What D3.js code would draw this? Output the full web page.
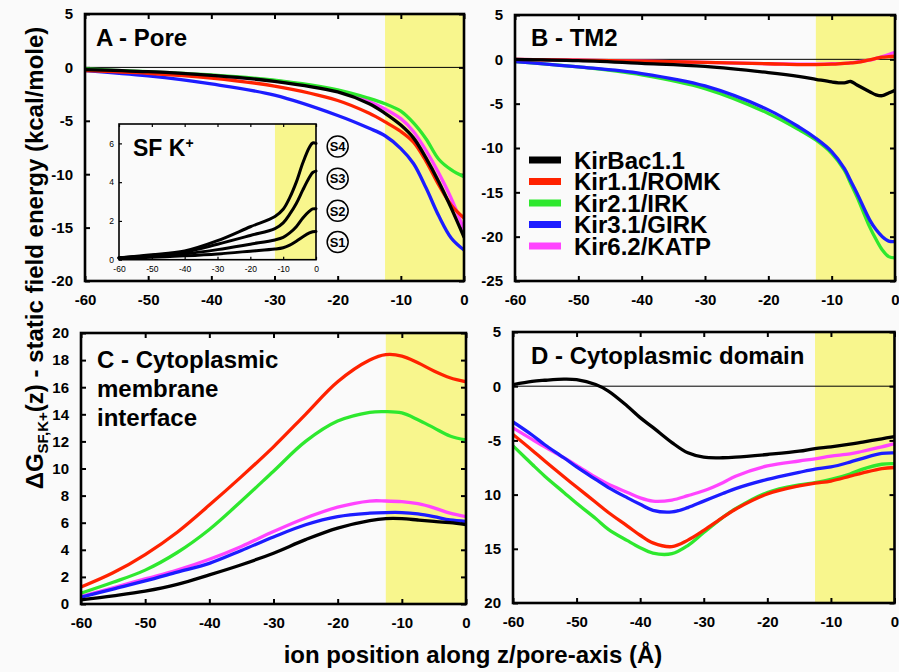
<!DOCTYPE html>
<html><head><meta charset="utf-8">
<script src="https://cdn.jsdelivr.net/npm/d3@7"></script>
<style>
body{margin:0;background:#fafafa}
svg{display:block}
text{font-family:"Liberation Sans",Arial,Helvetica,sans-serif;font-weight:bold;fill:#000}
</style>
</head><body><svg id="chart" width="899" height="672"></svg>
<script>
// ---------------- DATA ----------------
const seriesNames  = ["KirBac1.1","Kir1.1/ROMK","Kir2.1/IRK","Kir3.1/GIRK","Kir6.2/KATP"];
const seriesColors = ["#000000","#ff2200","#2ee82e","#1c1cff","#ff44ff"];
const xTickValues  = [-60,-50,-40,-30,-20,-10,0];
const sfRegion     = [-12.5, 0];

// Panel A - Pore
const poreX       = [-60,-50,-40,-30,-20,-15,-12.5,-10,-8,-6,-4,-2,0];
const poreKirBac  = [-0.2,-0.4,-0.75,-1.3,-2.3,-3.4,-4.3,-5.4,-6.6,-8.5,-10.7,-13.2,-15.9];
const poreROMK    = [-0.3,-0.55,-1.0,-1.75,-3.1,-4.3,-5.1,-6.0,-7.0,-8.8,-11.0,-12.9,-14.1];
const poreIRK     = [-0.15,-0.4,-0.7,-1.2,-2.1,-2.9,-3.4,-4.1,-5.2,-6.7,-8.6,-9.6,-10.25];
const poreGIRK    = [-0.3,-0.8,-1.55,-2.6,-4.5,-5.7,-6.4,-7.6,-9.0,-11.3,-13.9,-16.0,-17.1];
const poreKATP    = [-0.2,-0.4,-0.75,-1.25,-2.2,-3.2,-3.9,-4.8,-6.0,-7.8,-9.9,-12.3,-15.2];
const poreYTicks  = [5,0,-5,-10,-15,-20];

// Panel B - TM2
const tm2X       = [-60,-50,-40,-30,-20,-15,-12.5,-10,-8,-7,-6,-4,-3,-2,-1,0];
const tm2KirBac  = [0,-0.15,-0.45,-0.8,-1.5,-1.95,-2.25,-2.55,-2.65,-2.5,-2.9,-3.65,-4.0,-4.1,-3.8,-3.5];
const tm2ROMK    = [0,-0.1,-0.2,-0.35,-0.5,-0.6,-0.6,-0.55,-0.45,-0.4,-0.35,-0.05,0.1,0.25,0.3,0.35];
const tm2IRK     = [-0.25,-0.85,-1.75,-3.3,-6.1,-8.0,-9.1,-10.6,-12.5,-14.0,-15.5,-18.9,-20.3,-21.5,-22.25,-22.4];
const tm2GIRK    = [-0.25,-0.85,-1.6,-3.0,-5.7,-7.7,-8.9,-10.4,-12.3,-13.7,-15.1,-18.1,-19.2,-20.0,-20.5,-20.55];
const tm2KATP    = [0,-0.1,-0.2,-0.35,-0.5,-0.55,-0.55,-0.5,-0.45,-0.4,-0.3,-0.1,0.1,0.3,0.55,0.8];
const tm2YTicks  = [5,0,-5,-10,-15,-20,-25];

// Panel C - Cytoplasmic membrane interface
const cmiX       = [-60,-55,-50,-45,-40,-35,-30,-25,-20,-15,-12.5,-10,-7.5,-5,-2.5,0];
const cmiKirBac  = [0.3,0.6,0.95,1.45,2.15,2.9,3.75,4.75,5.6,6.15,6.3,6.3,6.2,6.1,6.0,5.85];
const cmiROMK    = [1.25,2.3,3.65,5.3,7.3,9.4,11.6,14.0,16.4,18.0,18.4,18.3,17.8,17.2,16.7,16.4];
const cmiIRK     = [0.8,1.6,2.5,3.8,5.5,7.6,9.8,12.0,13.5,14.15,14.2,14.1,13.6,13.0,12.4,12.1];
const cmiGIRK    = [0.5,1.1,1.7,2.35,3.0,3.95,4.95,5.85,6.45,6.7,6.75,6.75,6.65,6.45,6.2,6.1];
const cmiKATP    = [0.55,1.2,1.85,2.5,3.3,4.25,5.35,6.35,7.15,7.6,7.6,7.55,7.4,7.1,6.7,6.45];
const cmiYTicks  = [0,2,4,6,8,10,12,14,16,18,20];

// Panel D - Cytoplasmic domain
const cdX       = [-60,-57,-55,-52,-50,-47,-45,-42,-40,-38,-35,-32.5,-30,-27,-25,-20,-15,-12.5,-10,-7,-5,-2,0];
const cdKirBac  = [0.15,0.45,0.55,0.65,0.6,0.15,-0.45,-1.85,-2.9,-3.8,-5.2,-6.15,-6.55,-6.6,-6.55,-6.3,-6.0,-5.75,-5.6,-5.35,-5.15,-4.85,-4.65];
const cdROMK    = [-4.45,-5.9,-6.9,-8.35,-9.3,-10.7,-11.65,-12.9,-13.75,-14.45,-14.8,-14.2,-13.3,-12.1,-11.35,-9.95,-9.2,-8.95,-8.75,-8.3,-8.0,-7.6,-7.5];
const cdIRK     = [-5.5,-7.2,-8.3,-9.8,-10.8,-12.2,-13.2,-14.25,-14.9,-15.4,-15.45,-14.7,-13.5,-12.1,-11.3,-9.8,-9.1,-8.9,-8.6,-8.1,-7.65,-7.2,-7.15];
const cdGIRK    = [-3.3,-4.5,-5.4,-6.6,-7.45,-8.6,-9.35,-10.3,-10.9,-11.45,-11.6,-11.2,-10.6,-9.9,-9.45,-8.6,-7.95,-7.65,-7.45,-7.0,-6.65,-6.2,-6.15];
const cdKATP    = [-3.85,-4.9,-5.6,-6.6,-7.3,-8.4,-9.05,-9.8,-10.3,-10.6,-10.5,-10.1,-9.65,-8.9,-8.3,-7.35,-6.9,-6.7,-6.45,-6.25,-6.0,-5.6,-5.3];
const cdYTicks      = [5,0,-5,-10,-15,-20];
const cdYTickLabels = ["5","0","-5","10","15","20"];

// Inset - SF K+ sites
const sfX      = [-60,-50,-40,-30,-20,-12.5,-10,-8,-6,-4,-2,-1,0];
const sfS1     = [0.08,0.12,0.2,0.3,0.44,0.55,0.62,0.75,0.95,1.18,1.38,1.44,1.45];
const sfS2     = [0.1,0.18,0.3,0.52,0.8,1.02,1.15,1.38,1.7,2.15,2.5,2.62,2.63];
const sfS3     = [0.1,0.22,0.4,0.8,1.25,1.6,1.9,2.35,2.9,3.6,4.25,4.5,4.57];
const sfS4     = [0.1,0.25,0.45,0.98,1.7,2.23,2.6,3.2,4.0,5.0,5.8,6.02,6.0];
const sfSiteNames  = ["S1","S2","S3","S4"];
const sfSiteLabelY = [0.91,2.52,4.18,5.84];
const sfYTicks = [0,2,4,6];

// ---------------- DRAWING ----------------
const svg = d3.select("#chart");
const bg = "#fafafa", yellow = "#f8f68d";
const fmt = d => String(d);
const curve = d3.curveCatmullRom.alpha(0.5);

const panels = [
  {title:["A - Pore"], tx:96, ty:46, box:[85,464,14,281], yDom:[-20,5], yTicks:poreYTicks, yLabels:null, zero:true,
   x:poreX, ys:[poreKirBac,poreROMK,poreIRK,poreGIRK,poreKATP]},
  {title:["B - TM2"], tx:531, ty:46, box:[515,895,15,281], yDom:[-25,5], yTicks:tm2YTicks, yLabels:null, zero:true,
   x:tm2X, ys:[tm2KirBac,tm2ROMK,tm2IRK,tm2GIRK,tm2KATP]},
  {title:["C - Cytoplasmic","membrane","interface"], tx:97, ty:368, box:[81,466,333,604], yDom:[0,20], yTicks:cmiYTicks, yLabels:null, zero:false,
   x:cmiX, ys:[cmiKirBac,cmiROMK,cmiIRK,cmiGIRK,cmiKATP]},
  {title:["D - Cytoplasmic domain"], tx:531, ty:364, box:[513,894.5,332,603], yDom:[-20,5], yTicks:cdYTicks, yLabels:cdYTickLabels, zero:true,
   x:cdX, ys:[cdKirBac,cdROMK,cdIRK,cdGIRK,cdKATP]}
];
const drawOrder = [4,2,3,1,0];

panels.forEach((p,pi)=>{
  const [x0,x1,y0,y1] = p.box;
  const xs = d3.scaleLinear().domain([-60,0]).range([x0,x1]);
  const ys = d3.scaleLinear().domain(p.yDom).range([y1,y0]);
  const g = svg.append("g");
  const clipId = "clip"+pi;
  svg.append("clipPath").attr("id",clipId).append("rect")
    .attr("x",x0).attr("y",y0).attr("width",x1-x0).attr("height",y1-y0);
  g.append("rect").attr("x",x0).attr("y",y0).attr("width",x1-x0).attr("height",y1-y0).attr("fill",bg);
  g.append("rect").attr("x",xs(sfRegion[0])).attr("y",y0).attr("width",xs(sfRegion[1])-xs(sfRegion[0])).attr("height",y1-y0).attr("fill",yellow);
  if(p.zero){
    g.append("line").attr("x1",x0).attr("x2",x1).attr("y1",ys(0)).attr("y2",ys(0)).attr("stroke","#000").attr("stroke-width",1);
  }
  const bottom = d3.axisBottom(xs).tickValues(xTickValues).tickSizeInner(-5).tickSizeOuter(0).tickPadding(13).tickFormat(fmt);
  const top = d3.axisTop(xs).tickValues(xTickValues).tickSizeInner(-5).tickSizeOuter(0).tickFormat("");
  const left = d3.axisLeft(ys).tickValues(p.yTicks).tickSizeInner(-5).tickSizeOuter(0).tickPadding(12)
     .tickFormat((d,i)=> p.yLabels ? p.yLabels[i] : fmt(d));
  const right = d3.axisRight(ys).tickValues(p.yTicks).tickSizeInner(-5).tickSizeOuter(0).tickFormat("");
  [[bottom,`translate(0,${y1})`],[top,`translate(0,${y0})`],[left,`translate(${x0},0)`],[right,`translate(${x1},0)`]].forEach(([ax,tr])=>{
    const a = g.append("g").attr("transform",tr).call(ax);
    a.select(".domain").remove();
    a.selectAll(".tick line").attr("stroke","#000").attr("stroke-width",2);
    a.selectAll("text").style("font-size","15px").style("font-weight","bold")
      .style("font-family",'"Liberation Sans",Arial,sans-serif').attr("fill","#000");
  });
  const line = d3.line().curve(curve).x(d=>xs(d[0])).y(d=>ys(d[1]));
  const lg = g.append("g").attr("clip-path",`url(#${clipId})`);
  drawOrder.forEach(si=>{
    const pts = p.x.map((xv,i)=>[xv,p.ys[si][i]]);
    lg.append("path").attr("d",line(pts)).attr("fill","none").attr("stroke",seriesColors[si])
      .attr("stroke-width",3.3).attr("stroke-linejoin","round").attr("stroke-linecap","round");
  });
  g.append("rect").attr("x",x0).attr("y",y0).attr("width",x1-x0).attr("height",y1-y0)
    .attr("fill","none").attr("stroke","#000").attr("stroke-width",2.6);
  const t = g.append("text").attr("x",p.tx).attr("y",p.ty).style("font-size","24px");
  p.title.forEach((s,i)=>t.append("tspan").attr("x",p.tx).attr("dy",i?29:0).text(s));
});

// Legend in panel B
const legend = svg.append("g");
seriesNames.forEach((n,i)=>{
  const y = 160 + i*21.5;
  legend.append("line").attr("x1",529).attr("x2",561).attr("y1",y).attr("y2",y)
    .attr("stroke",seriesColors[i]).attr("stroke-width",7);
  legend.append("text").attr("x",574).attr("y",y).attr("dy","0.36em").style("font-size","24px").text(n);
});

// Inset in panel A
(function(){
  const x0=119,x1=316,y0=124,y1=259.7;
  const xs = d3.scaleLinear().domain([-60,0]).range([x0,x1]);
  const ys = d3.scaleLinear().domain([0,7]).range([y1,y0]);
  const g = svg.append("g");
  g.append("rect").attr("x",x0).attr("y",y0).attr("width",x1-x0).attr("height",y1-y0).attr("fill",bg);
  g.append("rect").attr("x",xs(sfRegion[0])).attr("y",y0).attr("width",xs(sfRegion[1])-xs(sfRegion[0])).attr("height",y1-y0).attr("fill",yellow);
  const bottom = d3.axisBottom(xs).tickValues(xTickValues).tickSizeInner(-3).tickSizeOuter(0).tickPadding(6).tickFormat(fmt);
  const top = d3.axisTop(xs).tickValues(xTickValues).tickSizeInner(-3).tickSizeOuter(0).tickFormat("");
  const left = d3.axisLeft(ys).tickValues(sfYTicks).tickSizeInner(-3).tickSizeOuter(0).tickPadding(5).tickFormat(fmt);
  [[bottom,`translate(0,${y1})`],[top,`translate(0,${y0})`],[left,`translate(${x0},0)`]].forEach(([ax,tr])=>{
    const a = g.append("g").attr("transform",tr).call(ax);
    a.select(".domain").remove();
    a.selectAll(".tick line").attr("stroke","#000").attr("stroke-width",1.2);
    a.selectAll("text").style("font-size","8.5px").style("font-weight","normal")
      .style("font-family",'"Liberation Sans",Arial,sans-serif').attr("fill","#000");
  });
  const line = d3.line().curve(curve).x(d=>xs(d[0])).y(d=>ys(d[1]));
  [sfS1,sfS2,sfS3,sfS4].forEach(arr=>{
    g.append("path").attr("d",line(sfX.map((xv,i)=>[xv,arr[i]]))).attr("fill","none")
      .attr("stroke","#000").attr("stroke-width",3).attr("stroke-linecap","round");
  });
  g.append("rect").attr("x",x0).attr("y",y0).attr("width",x1-x0).attr("height",y1-y0)
    .attr("fill","none").attr("stroke","#000").attr("stroke-width",1.6);
  const t = g.append("text").attr("x",133).attr("y",156).style("font-size","23px").text("SF K");
  t.append("tspan").attr("dy",-8).style("font-size","14px").text("+");
  sfSiteNames.forEach((n,i)=>{
    const cx = xs(6.6), cy = ys(sfSiteLabelY[i]);
    g.append("circle").attr("cx",cx).attr("cy",cy).attr("r",10.5).attr("fill","none").attr("stroke","#000").attr("stroke-width",1.5);
    g.append("text").attr("x",cx).attr("y",cy).attr("dy","0.36em").attr("text-anchor","middle")
      .style("font-size","13px").text(n);
  });
})();

// Axis titles
svg.append("text").attr("x",473).attr("y",663).attr("text-anchor","middle").style("font-size","24px")
  .text("ion position along z/pore-axis (Å)");
const yt = svg.append("text").attr("transform","translate(43,258) rotate(-90)").attr("text-anchor","middle").style("font-size","24px");
yt.append("tspan").text("ΔG");
yt.append("tspan").attr("dy",5).style("font-size","15px").text("SF,K+");
yt.append("tspan").attr("dy",-5).text("(z) - static field energy (kcal/mole)");
</script>
</body></html>
